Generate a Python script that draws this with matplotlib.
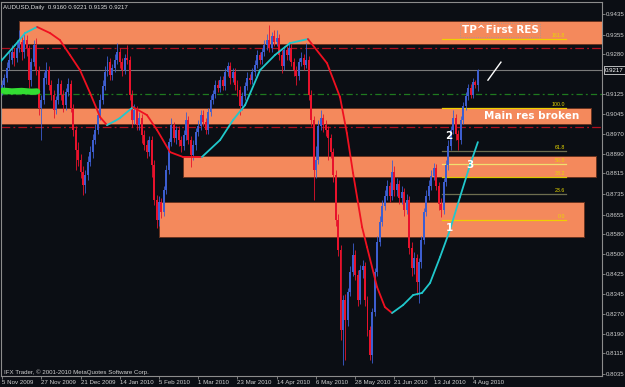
from matplotlib import pyplot as plt
from matplotlib.patches import Rectangle
from matplotlib.collections import LineCollection
import numpy as np

# AUDUSD daily, 5 Nov 2009 .. 6 Aug 2010 (bar index 0..194)
first_open = 0.9147
closes = [
    0.9159, 0.9186, 0.9225, 0.9256, 0.9287, 0.9264, 0.9303, 0.9326, 0.9287, 0.9334,
    0.9303, 0.9178, 0.9248, 0.9314, 0.9217, 0.9069, 0.9101, 0.9186, 0.9217, 0.9159,
    0.9120, 0.9062, 0.9101, 0.9163, 0.9120, 0.9081, 0.9132, 0.9163, 0.9069, 0.8984,
    0.8906, 0.8867, 0.8820, 0.8770, 0.8809, 0.8859, 0.8898, 0.8945, 0.8984, 0.9042,
    0.9101, 0.9155, 0.9209, 0.9248, 0.9198, 0.9225, 0.9256, 0.9287, 0.9248, 0.9217,
    0.9264, 0.9256, 0.9120, 0.9023, 0.9062, 0.9003, 0.9030, 0.8964, 0.8925, 0.8898,
    0.8945, 0.8848, 0.8712, 0.8634, 0.8704, 0.8665, 0.8750, 0.8828, 0.8937, 0.9003,
    0.8953, 0.8984, 0.8945, 0.8922, 0.8964, 0.9023, 0.8945, 0.8887, 0.8925, 0.8976,
    0.8999, 0.9042, 0.9015, 0.8984, 0.9054, 0.9101, 0.9124, 0.9159, 0.9147, 0.9178,
    0.9155, 0.9209, 0.9233, 0.9186, 0.9209, 0.9159, 0.9139, 0.9077, 0.9116, 0.9155,
    0.9186, 0.9178, 0.9209, 0.9237, 0.9276, 0.9256, 0.9287, 0.9314, 0.9334, 0.9303,
    0.9349, 0.9326, 0.9342, 0.9276, 0.9233, 0.9295, 0.9276, 0.9303, 0.9248, 0.9217,
    0.9194, 0.9248, 0.9264, 0.9237, 0.9256, 0.9120, 0.9023, 0.8828, 0.8867, 0.8999,
    0.9030, 0.9003, 0.8984, 0.8953, 0.8898, 0.8809, 0.8634, 0.8517, 0.8206, 0.8323,
    0.8245, 0.8354, 0.8431, 0.8498, 0.8420, 0.8323, 0.8439, 0.8455, 0.8323, 0.8206,
    0.8109, 0.8276, 0.8431, 0.8548, 0.8626, 0.8688, 0.8727, 0.8766, 0.8727, 0.8820,
    0.8750, 0.8774, 0.8719, 0.8743, 0.8673, 0.8712, 0.8525, 0.8447, 0.8486, 0.8393,
    0.8470, 0.8556, 0.8665, 0.8727, 0.8766, 0.8805, 0.8836, 0.8766, 0.8696, 0.8673,
    0.8782, 0.8848, 0.8922, 0.8984, 0.9030, 0.8968, 0.8945, 0.9023, 0.9077, 0.9116,
    0.9147, 0.9120, 0.9171, 0.9160, 0.9217,
]
highs = [
    0.9178, 0.9202, 0.9248, 0.9287, 0.9314, 0.9303, 0.9334, 0.9373, 0.9349, 0.9365,
    0.9353, 0.9314, 0.9264, 0.9334, 0.9342, 0.9233, 0.9120, 0.9209, 0.9248, 0.9233,
    0.9178, 0.9139, 0.9116, 0.9186, 0.9178, 0.9139, 0.9147, 0.9186, 0.9178, 0.9085,
    0.8999, 0.8937, 0.8890, 0.8844, 0.8828, 0.8883, 0.8922, 0.8968, 0.9007, 0.9062,
    0.9124, 0.9178, 0.9233, 0.9272, 0.9264, 0.9241, 0.9279, 0.9322, 0.9303, 0.9264,
    0.9279, 0.9314, 0.9272, 0.9139, 0.9085, 0.9077, 0.9054, 0.9046, 0.8984, 0.8945,
    0.8960, 0.8960, 0.8867, 0.8731, 0.8727, 0.8719, 0.8766, 0.8848, 0.8953, 0.9030,
    0.9015, 0.8999, 0.8999, 0.8960, 0.8984, 0.9054, 0.9038, 0.8960, 0.8945, 0.8992,
    0.9023, 0.9062, 0.9062, 0.9030, 0.9069, 0.9120, 0.9139, 0.9178, 0.9178, 0.9194,
    0.9194, 0.9225, 0.9248, 0.9248, 0.9225, 0.9225, 0.9178, 0.9155, 0.9132, 0.9171,
    0.9209, 0.9202, 0.9225, 0.9256, 0.9295, 0.9287, 0.9303, 0.9334, 0.9357, 0.9392,
    0.9365, 0.9373, 0.9373, 0.9357, 0.9295, 0.9311, 0.9311, 0.9326, 0.9318, 0.9264,
    0.9233, 0.9264, 0.9287, 0.9279, 0.9322, 0.9272, 0.9139, 0.9038, 0.8922, 0.9023,
    0.9062, 0.9046, 0.9023, 0.8999, 0.8968, 0.8914, 0.8828, 0.8657, 0.8536, 0.8342,
    0.8346, 0.8369, 0.8455, 0.8544, 0.8517, 0.8439, 0.8459, 0.8478, 0.8470, 0.8338,
    0.8221, 0.8291, 0.8447, 0.8571, 0.8649, 0.8712, 0.8750, 0.8789, 0.8782, 0.8867,
    0.8844, 0.8797, 0.8789, 0.8766, 0.8758, 0.8735, 0.8727, 0.8548, 0.8509, 0.8501,
    0.8486, 0.8571, 0.8680, 0.8750, 0.8789, 0.8828, 0.8855, 0.8852, 0.8782, 0.8719,
    0.8797, 0.8867, 0.8945, 0.8999, 0.9062, 0.9046, 0.8984, 0.9038, 0.9093, 0.9132,
    0.9163, 0.9163, 0.9186, 0.9178, 0.9221,
]
lows = [
    0.9120, 0.9139, 0.9171, 0.9217, 0.9241, 0.9233, 0.9248, 0.9287, 0.9256, 0.9264,
    0.9272, 0.9147, 0.9155, 0.9233, 0.9198, 0.9042, 0.8945, 0.9085, 0.9163, 0.9139,
    0.9101, 0.9030, 0.9046, 0.9085, 0.9101, 0.9054, 0.9062, 0.9116, 0.9054, 0.8960,
    0.8828, 0.8844, 0.8797, 0.8731, 0.8739, 0.8789, 0.8844, 0.8875, 0.8929, 0.8968,
    0.9023, 0.9085, 0.9139, 0.9194, 0.9178, 0.9178, 0.9209, 0.9241, 0.9225, 0.9194,
    0.9202, 0.9241, 0.9101, 0.8995, 0.9007, 0.8984, 0.8984, 0.8933, 0.8906, 0.8875,
    0.8883, 0.8801, 0.8692, 0.8603, 0.8610, 0.8641, 0.8649, 0.8735, 0.8813, 0.8922,
    0.8937, 0.8929, 0.8922, 0.8898, 0.8906, 0.8945, 0.8929, 0.8840, 0.8867, 0.8906,
    0.8960, 0.8984, 0.8999, 0.8968, 0.8968, 0.9038, 0.9085, 0.9108, 0.9132, 0.9132,
    0.9139, 0.9139, 0.9194, 0.9163, 0.9171, 0.9139, 0.9116, 0.9042, 0.9062, 0.9101,
    0.9139, 0.9163, 0.9163, 0.9194, 0.9225, 0.9241, 0.9241, 0.9272, 0.9295, 0.9287,
    0.9287, 0.9311, 0.9311, 0.9256, 0.9206, 0.9217, 0.9256, 0.9256, 0.9233, 0.9194,
    0.9159, 0.9178, 0.9233, 0.9217, 0.9225, 0.9101, 0.8999, 0.8712, 0.8797, 0.8852,
    0.8984, 0.8976, 0.8960, 0.8867, 0.8875, 0.8782, 0.8610, 0.8494, 0.8167, 0.8070,
    0.8089, 0.8221, 0.8338, 0.8416, 0.8400, 0.8299, 0.8307, 0.8408, 0.8299, 0.8182,
    0.8089, 0.8077, 0.8260, 0.8416, 0.8533, 0.8610, 0.8673, 0.8712, 0.8704, 0.8712,
    0.8727, 0.8727, 0.8696, 0.8696, 0.8649, 0.8657, 0.8501, 0.8416, 0.8424, 0.8342,
    0.8311, 0.8447, 0.8540, 0.8649, 0.8712, 0.8750, 0.8789, 0.8750, 0.8673, 0.8645,
    0.8657, 0.8766, 0.8828, 0.8906, 0.8968, 0.8945, 0.8906, 0.8929, 0.9007, 0.9062,
    0.9101, 0.9108, 0.9108, 0.9147, 0.9135,
]

# smoothed MA (cyan rising / red falling), knots
ma_x = [-0.8, 5.3, 9.4, 14.3, 19.6, 23.6, 27.7, 31.8, 35.9, 40, 42.8, 46, 48, 53.4,
        59.1, 63.2, 68.5, 73.8, 81.5, 88.9, 94.2, 99.1, 105.2, 111.3, 117.4, 124.7,
        132.5, 137.8, 140.6, 143.1, 146.8, 148.8, 152.9, 156.1, 159, 163.5, 167.6,
        171.2, 174.5, 178.6, 182.6, 186.7, 190.8, 194]
ma_y = [0.9248, 0.9314, 0.9361, 0.9385, 0.9361, 0.9334, 0.9276, 0.9217, 0.9128, 0.9034,
        0.9003, 0.9019, 0.9030, 0.9073, 0.9042, 0.8984, 0.8898, 0.8879, 0.8879, 0.8945,
        0.9023, 0.9081, 0.9217, 0.9276, 0.9322, 0.9338, 0.9244, 0.9112, 0.8972, 0.8817,
        0.8606, 0.8529, 0.8373, 0.8295, 0.8272, 0.8303, 0.8342, 0.8350, 0.8389, 0.8490,
        0.8595, 0.8723, 0.8848, 0.8937]

# zones: (left bar, right bar, low, high)
zone_left = [6.9, -1, 73.8, 64]
zone_right = [250, 240.1, 242.2, 237.3]
zone_low = [0.9318, 0.9007, 0.8801, 0.8567]
zone_high = [0.9408, 0.9069, 0.8883, 0.8704]

fib_low, fib_high = 0.8634, 0.9069
fib_levels = [0.0, 23.6, 38.2, 50.0, 61.8, 100.0, 161.8]
fib_colors = ['#f0d000', '#6e6e50', '#d8c800', '#f0e070', '#6e6e50', '#f0d000', '#f0d000']

red_lines = [0.9303, 0.8995]
green_line = 0.9124
last_price = 0.9217

ytick_vals = [0.9435, 0.9355, 0.9280, 0.9125, 0.9045, 0.8970, 0.8890, 0.8815, 0.8735,
              0.8655, 0.8580, 0.8500, 0.8425, 0.8345, 0.8270, 0.8190, 0.8115, 0.8035]
xtick_idx = [0, 16, 32, 48, 64, 80, 96, 112, 128, 144, 160, 176, 192]
xtick_lab = ["5 Nov 2009", "27 Nov 2009", "21 Dec 2009", "14 Jan 2010", "5 Feb 2010",
             "1 Mar 2010", "23 Mar 2010", "14 Apr 2010", "6 May 2010", "28 May 2010",
             "21 Jun 2010", "13 Jul 2010", "4 Aug 2010"]

BG = '#0b0e14'
SMALL = dict(family='Liberation Sans', size=4.4)

fig = plt.figure(figsize=(6.25, 3.87), dpi=100, facecolor=BG)
ax = fig.add_axes([1 / 625, 11 / 387, 601 / 625, 374 / 387])
ax.set_facecolor(BG)
ax.set_xlim(-0.41, 244.6)
ax.set_ylim(0.8027, 0.9482)

for s in ax.spines.values():
    s.set_color('#8c8c8c')
    s.set_linewidth(0.8)

# zones
for l, r, lo, hi in zip(zone_left, zone_right, zone_low, zone_high):
    ax.add_patch(Rectangle((l, lo), r - l, hi - lo, facecolor='#f4895c',
                           edgecolor='#6a3420', lw=0.7, zorder=1))

# horizontal lines
for p in red_lines:
    ax.axhline(p, color='#b0101e', lw=0.9, dashes=(7, 2.5, 1.5, 2.5), zorder=2)
ax.axhline(green_line, color='#1f7a1f', lw=0.9, dashes=(5, 2.5, 1.5, 2.5), zorder=2)
ax.axhline(last_price, color='#7a7a7a', lw=0.8, zorder=2)

# fibonacci
for lev, col in zip(fib_levels, fib_colors):
    p = fib_low + (fib_high - fib_low) * lev / 100
    ax.plot([179.4, 229.9], [p, p], color=col, lw=0.9, zorder=2)
    ax.text(229.5, p + 0.0003, f"{lev:.1f}", color='#e8d800', fontsize=3.8,
            family='Liberation Sans', ha='right', va='bottom', zorder=5)

# candles
c = np.array(closes)
o = np.array([first_open] + closes[:-1])
h = np.array(highs)
lw_ = np.array(lows)
x = np.arange(len(c))
up = c >= o
cols = np.where(up, '#3d5ed0', '#e8122c')
ax.vlines(x, lw_, h, colors=cols, lw=0.6, zorder=3)
body = np.maximum(np.abs(c - o), 0.0002)
ax.bar(x, body, bottom=np.minimum(o, c), width=0.8, color=cols, lw=0, zorder=3)

# MA line
pts = np.column_stack([ma_x, ma_y])
segs = [pts[i:i + 2] for i in range(len(pts) - 1)]
seg_cols = ['#20c8cc' if ma_y[i + 1] > ma_y[i] else '#f01020' for i in range(len(pts) - 1)]
ax.add_collection(LineCollection(segs, colors=seg_cols, lw=1.3, zorder=4,
                                 capstyle='round', joinstyle='round'))

# green marker stroke at left
ax.plot([0.4, 4, 8, 12, 14.3], [0.9137, 0.9134, 0.9136, 0.9133, 0.9134],
        color='#33dd33', lw=4.5, solid_capstyle='round', zorder=5)

# white trend stroke
ax.plot([198.1, 203.4], [0.9178, 0.9248], color='white', lw=1.0, zorder=5)

# annotations
ax.text(203, 0.9373, "TP^First RES", color='white', fontsize=7.5, fontweight='bold',
        ha='center', va='center', zorder=6,
        bbox=dict(boxstyle='square,pad=0.15', fc='none', ec='#9a9a9a', lw=0.6, ls=':'))
ax.text(216, 0.9038, "Main res broken", color='white', fontsize=7.5, fontweight='bold',
        ha='center', va='center', zorder=6)
for lab, bx, by in [("2", 182.2, 0.8960), ("3", 190.8, 0.8848), ("1", 182.6, 0.8603)]:
    ax.text(bx, by, lab, color='white', fontsize=7.5, fontweight='bold',
            ha='center', va='center', zorder=6)

# axes ticks
ax.yaxis.tick_right()
ax.set_yticks(ytick_vals)
ax.set_yticklabels([f"{v:.4f}" for v in ytick_vals])
ax.set_xticks(xtick_idx)
ax.set_xticklabels(xtick_lab, ha='left')
ax.tick_params(axis='both', colors='#8c8c8c', labelcolor='#d0d0d0',
               length=2, width=0.6, pad=1)
for t in ax.get_xticklabels() + ax.get_yticklabels():
    t.set_fontfamily(SMALL['family'])
    t.set_fontsize(SMALL['size'])

# current price box on the axis
ax.annotate(f"{last_price:.4f}", xy=(1.0, last_price), xycoords=('axes fraction', 'data'),
            xytext=(2, 0), textcoords='offset points', color='white',
            va='center', ha='left', annotation_clip=False, **SMALL,
            bbox=dict(boxstyle='square,pad=0.2', fc=BG, ec='white', lw=0.5))

fig.text(3 / 625, 1 - 7 / 387, "AUDUSD,Daily  0.9160 0.9221 0.9135 0.9217",
         color='#e0e0e0', va='center', ha='left', **SMALL)
fig.text(4 / 625, 1 - 372 / 387, "IFX Trader, \u00a9 2001-2010 MetaQuotes Software Corp.",
         color='#d0d0d0', va='center', ha='left', **SMALL)

fig.savefig("out.png", dpi=100, facecolor=BG)
